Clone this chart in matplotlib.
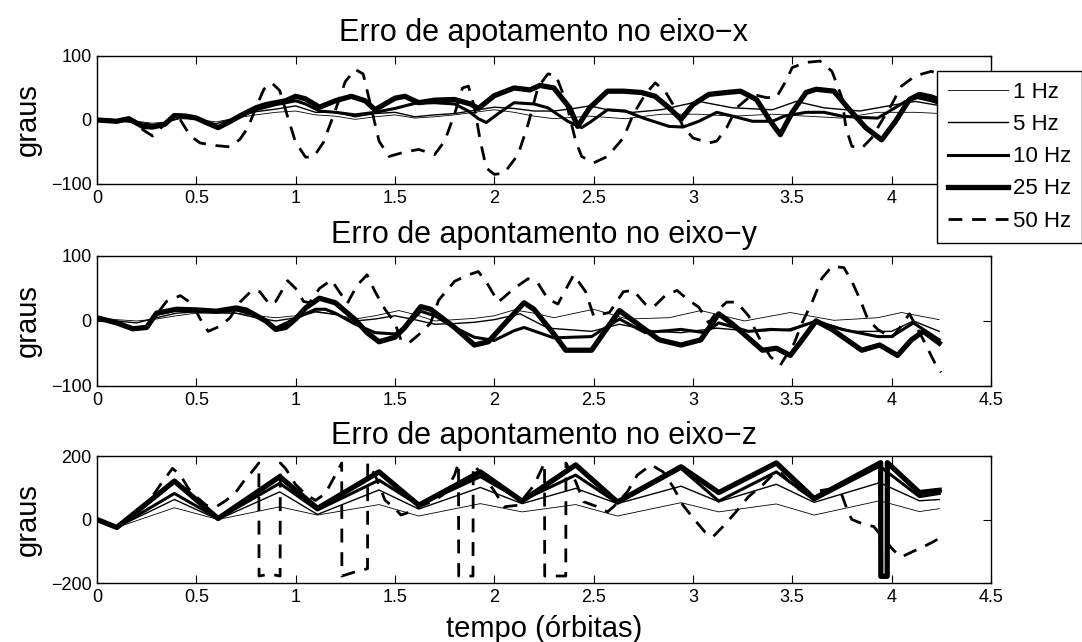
import matplotlib
matplotlib.use('Agg')
import matplotlib.pyplot as plt

plt.rcParams['font.family'] = ['Liberation Sans', 'DejaVu Sans']

legend_labels = ['1 Hz', '5 Hz', '10 Hz', '25 Hz', '50 Hz']
titles = ['Erro de apotamento no eixo\u2212x',
          'Erro de apontamento no eixo\u2212y',
          'Erro de apontamento no eixo\u2212z']

# --- eixo x ---
tx_1 = [0, 0.1, 0.2, 0.28, 0.35, 0.42, 0.5, 0.6, 0.7, 0.8, 0.9, 1.0, 1.1, 1.2, 1.3,
        1.4, 1.5, 1.6, 1.7, 1.8, 1.9, 2.0, 2.1, 2.2, 2.3, 2.48, 2.66, 2.84, 3.03, 3.2,
        3.4, 3.57, 3.75, 3.93, 4.12, 4.25]
ex_1 = [0, 0, -2, -5, -3, 2, 1, -3, 3, 8, 12, 14, 8, 6, 1,
        5, 8, 3, 5, 8, 12, 16, 12, 6, 2, 6, 2, 9, 9, 6,
        9, 6, 3, 12, 12, 10]
tx_5 = [0, 0.1, 0.2, 0.28, 0.35, 0.42, 0.5, 0.6, 0.7, 0.8, 0.9, 1.0, 1.1, 1.2, 1.3,
        1.4, 1.5, 1.6, 1.7, 1.8, 1.9, 2.0, 2.1, 2.2, 2.3, 2.4, 2.48, 2.6, 2.7, 2.84,
        3.03, 3.2, 3.4, 3.52, 3.66, 3.84, 4.02, 4.12, 4.25]
ex_5 = [0, 0, -3, -7, -4, 4, 2, -6, 4, 13, 17, 22, 12, 12, 5,
        10, 12, 5, 8, 10, 15, 20, 18, 14, 14, 18, 22, 14, 12, 16,
        29, 19, 16, 29, 19, 14, 24, 29, 22]
tx_10 = [0, 0.1, 0.16, 0.23, 0.28, 0.34, 0.39, 0.45, 0.5, 0.55, 0.61, 0.66, 0.73, 0.8,
         0.9, 1.0, 1.05, 1.12, 1.2, 1.3, 1.4, 1.5, 1.6, 1.7, 1.8, 1.87, 1.92, 1.96,
         2.02, 2.1, 2.2, 2.27, 2.37, 2.44, 2.48, 2.57, 2.66, 2.75, 2.88, 2.95, 3.03,
         3.12, 3.2, 3.3, 3.4, 3.46, 3.57, 3.66, 3.75, 3.84, 3.93, 3.98, 4.07, 4.13,
         4.2, 4.25]
ex_10 = [0, -1, 2, -9, -10, -6, 6, 5, 2, -4, -11, -4, 7, 16,
         24, 30, 25, 14, 12, 8, 12, 18, 26, 27, 25, 14, 2, -4,
         10, 27, 25, 19, -2, -12, -4, 16, 14, 3, -10, -11, -2,
         12, 6, -2, -2, 6, 12, 12, 6, 4, 3, 12, 29, 35,
         30, 25]
tx_25 = [0, 0.1, 0.16, 0.23, 0.28, 0.34, 0.39, 0.45, 0.5, 0.55, 0.61, 0.66, 0.73, 0.8,
         0.85, 0.95, 1.0, 1.05, 1.12, 1.2, 1.28, 1.35, 1.4, 1.5, 1.55, 1.62, 1.7, 1.8,
         1.88, 1.92, 2.0, 2.1, 2.18, 2.23, 2.3, 2.38, 2.42, 2.48, 2.57, 2.65, 2.74,
         2.81, 2.88, 2.94, 3.0, 3.08, 3.17, 3.24, 3.32, 3.39, 3.44, 3.5, 3.57, 3.62,
         3.71, 3.78, 3.87, 3.95, 4.02, 4.09, 4.14, 4.2, 4.25]
ex_25 = [0, -2, 2, -10, -11, -7, 7, 6, 3, -4, -12, -4, 8, 19,
         24, 30, 37, 33, 20, 30, 37, 30, 16, 34, 37, 27, 31, 32,
         25, 18, 38, 50, 47, 54, 50, 19, -10, 19, 45, 45, 43,
         37, 19, 1, 24, 40, 43, 45, 32, -2, -23, 12, 43, 48,
         45, 19, -12, -31, -2, 32, 40, 36, 30]
tx_50 = [0, 0.1, 0.18, 0.23, 0.28, 0.33, 0.38, 0.42, 0.47, 0.52, 0.6, 0.67, 0.72, 0.76,
         0.8, 0.84, 0.88, 0.92, 0.96, 1.0, 1.05, 1.09, 1.14, 1.2, 1.25, 1.3, 1.34,
         1.38, 1.42, 1.47, 1.55, 1.62, 1.7, 1.75, 1.8, 1.84, 1.87, 1.9, 1.93, 1.96,
         2.0, 2.05, 2.12, 2.17, 2.22, 2.27, 2.31, 2.36, 2.41, 2.44, 2.5, 2.57, 2.65,
         2.7, 2.76, 2.81, 2.86, 2.9, 2.95, 3.0, 3.08, 3.12, 3.17, 3.22, 3.3, 3.37,
         3.42, 3.47, 3.5, 3.57, 3.64, 3.7, 3.75, 3.77, 3.8, 3.85, 3.9, 3.94, 4.0,
         4.05, 4.12, 4.2, 4.25]
ex_50 = [0, 0, -3, -15, -25, -10, 3, 0, -25, -36, -40, -42, -30, -12,
         19, 48, 58, 46, 5, -35, -58, -58, -35, 15, 60, 79, 72,
         20, -33, -57, -50, -46, -54, -33, 9, 50, 53, 20, -33, -75,
         -85, -83, -54, -7, 51, 72, 70, 30, -33, -57, -67, -57, -28,
         9, 40, 58, 45, 24, -10, -28, -36, -33, -12, 19, 40, 35,
         35, 62, 82, 90, 92, 76, 35, -12, -41, -44, -28, -7, 24,
         53, 69, 76, 70]

# --- eixo y ---
ty_1 = [0, 0.1, 0.2, 0.3, 0.4, 0.5, 0.6, 0.7, 0.8, 0.9, 1.0, 1.1, 1.2, 1.3, 1.4,
        1.52, 1.6, 1.7, 1.8, 1.9, 2.0, 2.1, 2.2, 2.3, 2.5, 2.67, 2.88, 3.04, 3.26,
        3.49, 3.71, 3.93, 4.05, 4.24]
ey_1 = [5, 2, 0, 3, 8, 12, 12, 12, 8, 5, 8, 15, 10, 3, 8,
        16, 10, 0, 2, 4, 8, 17, 12, 5, 18, 3, 5, 16, 0,
        13, 1, 5, 13, 2]
ty_5 = [0, 0.1, 0.2, 0.3, 0.4, 0.5, 0.6, 0.7, 0.8, 0.9, 1.0, 1.1, 1.2, 1.3, 1.4,
        1.5, 1.6, 1.7, 1.8, 1.9, 2.0, 2.13, 2.27, 2.49, 2.63, 2.81, 2.94, 3.12, 3.3,
        3.48, 3.62, 3.8, 4.0, 4.11, 4.24]
ey_5 = [5, 0, -3, 5, 12, 14, 13, 12, 5, 0, 5, 14, 10, 0, 3,
        8, 2, -5, -4, -2, 2, 11, -11, -16, -5, -16, -18, -11, -16,
        -13, 0, -16, -16, 0, -16]
ty_10 = [0, 0.1, 0.18, 0.25, 0.3, 0.4, 0.5, 0.6, 0.7, 0.8, 0.9, 1.0, 1.1, 1.15,
         1.2, 1.3, 1.4, 1.5, 1.55, 1.63, 1.7, 1.8, 1.9, 2.0, 2.1, 2.15, 2.3, 2.49,
         2.63, 2.76, 2.94, 3.06, 3.13, 3.28, 3.39, 3.49, 3.62, 3.75, 3.93, 4.0,
         4.11, 4.24]
ey_10 = [5, -3, -11, -9, 10, 17, 16, 14, 17, 9, -11, 4, 18, 18,
         12, -5, -18, -20, -10, 15, 8, -10, -25, -30, -15, -10, -26, -24,
         3, -18, -13, -18, -3, -16, -13, -14, 0, -13, -24, -24,
         -3, -29]
ty_25 = [0, 0.1, 0.18, 0.25, 0.3, 0.4, 0.5, 0.6, 0.7, 0.75, 0.85, 0.9, 0.95, 1.0,
         1.05, 1.12, 1.2, 1.3, 1.36, 1.42, 1.5, 1.55, 1.63, 1.68, 1.8, 1.9, 1.97,
         2.05, 2.15, 2.2, 2.3, 2.36, 2.49, 2.63, 2.83, 2.94, 3.04, 3.13, 3.2, 3.35,
         3.42, 3.49, 3.55, 3.62, 3.7, 3.85, 3.94, 4.03, 4.1, 4.16, 4.24]
ey_25 = [5, -3, -12, -10, 12, 18, 17, 15, 20, 17, 0, -13, -10, 3,
         20, 35, 28, 2, -18, -32, -25, -10, 22, 18, -10, -37, -32,
         -5, 28, 18, -20, -45, -45, 16, -29, -37, -29, 11, -5, -45,
         -42, -53, -29, 0, -13, -45, -37, -53, -29, -16, -34]
ty_50 = [0, 0.1, 0.18, 0.25, 0.3, 0.35, 0.42, 0.48, 0.52, 0.56, 0.62, 0.67, 0.72,
         0.78, 0.82, 0.87, 0.9, 0.96, 1.0, 1.04, 1.07, 1.12, 1.18, 1.22, 1.26, 1.31,
         1.36, 1.4, 1.45, 1.5, 1.53, 1.57, 1.62, 1.68, 1.72, 1.8, 1.87, 1.92, 1.97,
         2.02, 2.1, 2.17, 2.22, 2.27, 2.32, 2.4, 2.46, 2.5, 2.58, 2.65, 2.7, 2.76,
         2.8, 2.86, 2.92, 2.97, 3.03, 3.08, 3.13, 3.17, 3.22, 3.28, 3.33, 3.39, 3.44,
         3.51, 3.55, 3.6, 3.65, 3.7, 3.76, 3.8, 3.84, 3.88, 3.93, 4.0, 4.04, 4.09,
         4.16, 4.22, 4.25]
ey_50 = [5, -3, -12, -8, 10, 30, 39, 26, 3, -16, -8, 5, 29,
         47, 45, 25, 30, 62, 50, 30, 28, 50, 63, 45, 27, 55,
         71, 45, 18, -3, -29, -34, -21, -3, 32, 61, 71, 76, 55,
         29, 50, 65, 58, 34, 26, 71, 45, 8, 13, 45, 47, 26,
         21, 39, 47, 34, 21, -3, 18, 29, 29, 8, -24, -55, -68,
         -34, -3, 29, 66, 84, 82, 61, 34, 3, -13, -26, -11, 11,
         -29, -66, -79]

# --- eixo z ---
tz_1 = [0, 0.1, 0.39, 0.61, 0.92, 1.11, 1.42, 1.62, 1.93, 2.14, 2.41, 2.62, 2.94,
        3.13, 3.42, 3.61, 3.94, 4.14, 4.24]
ez_1 = [0, -25, 37, 0, 40, 14, 47, 11, 50, 24, 47, 11, 53, 24, 49, 14, 59, 25, 34]
tz_5 = tz_1
ez_5 = [0, -25, 63, 0, 87, 16, 93, 33, 101, 50, 98, 50, 105, 56, 111, 54, 116, 59, 63]
tz_10 = tz_1
ez_10 = [0, -25, 82, 3, 114, 30, 124, 45, 135, 60, 140, 52, 161, 58, 150, 62, 168, 72, 82]
tz_25 = [0, 0.1, 0.39, 0.61, 0.92, 1.11, 1.42, 1.62, 1.93, 2.14, 2.41, 2.62, 2.94,
         3.13, 3.42, 3.61, 3.945, 3.946, 3.978, 3.979, 4.14, 4.24]
ez_25 = [0, -25, 121, 3, 135, 35, 150, 45, 150, 58, 172, 55, 166,
         85, 178, 66, 179, -179, -179, 179, 85, 92]
tz_50 = [0, 0.1, 0.18, 0.26, 0.32, 0.38, 0.42, 0.46, 0.5, 0.55,
         0.6, 0.65, 0.7, 0.75, 0.78, 0.815, 0.816, 0.87, 0.922, 0.923,
         0.95, 1.0, 1.05, 1.1, 1.15, 1.2, 1.232, 1.233, 1.3, 1.362,
         1.363, 1.4, 1.45, 1.5, 1.53, 1.58, 1.62, 1.7, 1.75, 1.8,
         1.82, 1.821, 1.893, 1.894, 1.93, 2.0, 2.05, 2.12, 2.2, 2.24,
         2.253, 2.254, 2.36, 2.361, 2.41, 2.45, 2.52, 2.57, 2.6, 2.67,
         2.72, 2.79, 2.85, 2.9, 2.95, 3.01, 3.06, 3.1, 3.15, 3.21,
         3.28, 3.35, 3.4, 3.44, 3.5, 3.57, 3.66, 3.71, 3.75, 3.78,
         3.8, 3.86, 3.91, 3.96, 4.01, 4.05, 4.11, 4.16, 4.21, 4.25]
ez_50 = [0, -25, 10, 56, 110, 161, 140, 98, 72, 45,
         40, 60, 87, 130, 150, 178, -178, -172, -178, 178,
         160, 110, 80, 60, 82, 140, 178, -178, -165, -155,
         177, 140, 61, 35, 14, 25, 40, 60, 82, 140,
         178, -178, -178, 170, 150, 90, 40, 45, 108, 161,
         178, -178, -178, 178, 119, 56, 40, 24, 40, 87,
         140, 172, 150, 103, 45, -2, -39, -55, -23, 19,
         72, 108, 140, 150, 108, 82, 93, 98, 77, 25,
         0, -15, -22, -60, -97, -118, -100, -86, -70, -55]

panels = [
    [(tx_1, ex_1), (tx_5, ex_5), (tx_10, ex_10), (tx_25, ex_25), (tx_50, ex_50)],
    [(ty_1, ey_1), (ty_5, ey_5), (ty_10, ey_10), (ty_25, ey_25), (ty_50, ey_50)],
    [(tz_1, ez_1), (tz_5, ez_5), (tz_10, ez_10), (tz_25, ez_25), (tz_50, ez_50)],
]
yticks = [[-100, 0, 100], [-100, 0, 100], [-200, 0, 200]]

widths = [0.6, 1.0, 2.2, 3.8, 2.0]
styles = ['-', '-', '-', '-', (0, (5, 3.5))]
boxes = [[0.0896, 0.7134, 0.8262, 0.1994],
         [0.0896, 0.3988, 0.8262, 0.2025],
         [0.0896, 0.0919, 0.8262, 0.1978]]

fig = plt.figure(figsize=(10.82, 6.42), dpi=100)
handles = None
for i in range(3):
    ax = fig.add_axes(boxes[i])
    lines = []
    for (t, e), lw, ls in zip(panels[i], widths, styles):
        ln, = ax.plot(t, e, color='k', lw=lw, linestyle=ls)
        lines.append(ln)
    if handles is None:
        handles = lines
    ax.set_xlim(0, 4.5)
    ax.set_ylim(yticks[i][0], yticks[i][-1])
    ax.set_xticks([0, 0.5, 1, 1.5, 2, 2.5, 3, 3.5, 4, 4.5])
    ax.set_xticklabels(['0', '0.5', '1', '1.5', '2', '2.5', '3', '3.5', '4', '4.5'])
    ax.set_yticks(yticks[i])
    ax.tick_params(direction='in', top=True, right=True, length=6, width=0.8,
                   labelsize=13, pad=4)
    for s in ax.spines.values():
        s.set_linewidth(1.0)
    ax.set_title(titles[i], fontsize=22, pad=11 if i == 0 else 9)
    ax.set_ylabel('graus', fontsize=21)
    ax.yaxis.set_label_coords(-0.062, 0.5)
ax.set_xlabel('tempo (\u00f3rbitas)', fontsize=21, labelpad=7)

leg = fig.legend(handles, legend_labels, loc='upper left',
                 bbox_to_anchor=(937 / 1082, 1 - 71 / 642), fontsize=16,
                 fancybox=False, edgecolor='k', framealpha=1, handlelength=2.7,
                 handletextpad=0.2, labelspacing=0.5, borderpad=0.5, borderaxespad=0)
leg.get_frame().set_linewidth(1.0)

fig.savefig('out.png', dpi=100)
